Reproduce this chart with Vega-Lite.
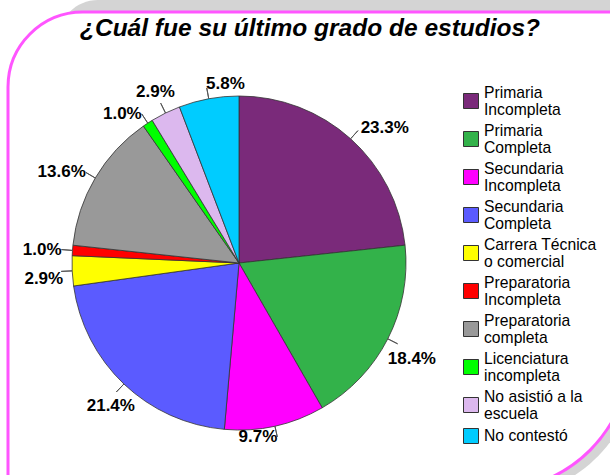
{
  "$schema": "https://vega.github.io/schema/vega-lite/v6.json",
  "width": 602,
  "height": 463,
  "autosize": {"type": "none"},
  "padding": {"left": 8, "top": 12, "right": 0, "bottom": 0},
  "background": "white",
  "config": {"view": {"stroke": null}, "font": "Liberation Sans"},
  "title": {
    "text": "¿Cuál fue su último grado de estudios?",
    "font": "Liberation Sans",
    "fontSize": 24.5,
    "fontWeight": "bold",
    "fontStyle": "italic",
    "color": "black",
    "anchor": "start",
    "frame": "group",
    "dx": 72,
    "dy": 23,
    "offset": -37,
    "baseline": "alphabetic"
  },
  "datasets": {
    "edu": [
      {"idx": 1, "cat": "Primaria Incompleta", "share": 0.233},
      {"idx": 2, "cat": "Primaria Completa", "share": 0.184},
      {"idx": 3, "cat": "Secundaria Incompleta", "share": 0.097},
      {"idx": 4, "cat": "Secundaria Completa", "share": 0.214},
      {"idx": 5, "cat": "Carrera Técnica o comercial", "share": 0.029},
      {"idx": 6, "cat": "Preparatoria Incompleta", "share": 0.010},
      {"idx": 7, "cat": "Preparatoria completa", "share": 0.136},
      {"idx": 8, "cat": "Licenciatura incompleta", "share": 0.010},
      {"idx": 9, "cat": "No asistió a la escuela", "share": 0.029},
      {"idx": 10, "cat": "No contestó", "share": 0.058}
    ]
  },
  "data": {"name": "edu"},
  "layer": [
    {
      "data": {"values": [{}]},
      "mark": {"type": "rect", "fill": "#d4d4d4", "stroke": null, "cornerRadiusTopLeft": 40, "cornerRadiusBottomRight": 136},
      "encoding": {
        "x": {"value": 50},
        "x2": {"value": {"expr": "width + 27"}},
        "y": {"value": -12},
        "y2": {"value": {"expr": "height + 22"}}
      }
    },
    {
      "data": {"values": [{}]},
      "mark": {"type": "rect", "fill": "white", "stroke": "#FF55FF", "strokeWidth": 3, "cornerRadiusTopLeft": 75, "cornerRadiusBottomRight": 136},
      "encoding": {
        "x": {"value": 0},
        "x2": {"value": {"expr": "width + 20"}},
        "y": {"value": 0},
        "y2": {"value": {"expr": "height + 15"}}
      }
    },
    {
      "mark": {"type": "arc", "x": 231, "y": 251, "radius": 167, "stroke": "#333333", "strokeWidth": 0.8},
      "encoding": {
        "theta": {"field": "share", "type": "quantitative", "stack": true},
        "order": {"field": "idx", "type": "quantitative"},
        "color": {
          "field": "cat",
          "type": "nominal",
          "scale": {
            "domain": ["Primaria Incompleta", "Primaria Completa", "Secundaria Incompleta", "Secundaria Completa", "Carrera Técnica o comercial", "Preparatoria Incompleta", "Preparatoria completa", "Licenciatura incompleta", "No asistió a la escuela", "No contestó"],
            "range": ["#7A2A7A", "#33B24A", "#FF00FF", "#5B5BFF", "#FFFF00", "#FF0000", "#999999", "#00FF00", "#DCB8EE", "#00CCFF"]
          },
          "legend": {
            "title": null,
            "orient": "none",
            "legendX": 455,
            "legendY": 81,
            "padding": 0,
            "symbolType": "square",
            "symbolSize": 225,
            "symbolStrokeColor": "#333333",
            "symbolStrokeWidth": 1,
            "labelFont": "Liberation Sans",
            "labelFontSize": 15.7,
            "labelColor": "black",
            "labelOffset": 5,
            "labelLimit": 200,
            "rowPadding": 4,
            "labelExpr": "datum.label == 'Carrera Técnica o comercial' ? ['Carrera Técnica', 'o comercial'] : datum.label == 'No asistió a la escuela' ? ['No asistió a la', 'escuela'] : datum.label == 'No contestó' ? datum.label : split(datum.label, ' ')",
            "encode": {
              "labels": {"update": {"dy": {"signal": "datum.value == 'No contestó' ? 0 : -8.5"}}}
            }
          }
        }
      }
    },
    {
      "mark": {"type": "arc", "x": 231, "y": 251, "radius": 178, "radius2": 167, "padAngle": 3, "fillOpacity": 0, "stroke": "#555555", "strokeWidth": 1},
      "encoding": {
        "theta": {"field": "share", "type": "quantitative", "stack": true},
        "order": {"field": "idx", "type": "quantitative"}
      }
    },
    {
      "mark": {"type": "text", "x": 231, "y": 251, "radius": 182, "align": "left", "baseline": "middle", "font": "Liberation Sans", "fontSize": 17, "fontWeight": "bold", "color": "black"},
      "encoding": {
        "theta": {"field": "share", "type": "quantitative", "stack": true},
        "order": {"field": "idx", "type": "quantitative"},
        "text": {"condition": {"test": "indexof(['Primaria Incompleta', 'No contestó'], datum.cat) >= 0", "field": "share", "type": "quantitative", "format": ".1%"}, "value": ""}
      }
    },
    {
      "mark": {"type": "text", "x": 231, "y": 251, "radius": 190, "align": "center", "baseline": "middle", "font": "Liberation Sans", "fontSize": 17, "fontWeight": "bold", "color": "black"},
      "encoding": {
        "theta": {"field": "share", "type": "quantitative", "stack": true},
        "order": {"field": "idx", "type": "quantitative"},
        "text": {"condition": {"test": "datum.cat === 'No asistió a la escuela'", "field": "share", "type": "quantitative", "format": ".1%"}, "value": ""}
      }
    },
    {
      "mark": {"type": "text", "x": 231, "y": 251, "radius": 186, "align": "center", "baseline": "top", "font": "Liberation Sans", "fontSize": 17, "fontWeight": "bold", "color": "black"},
      "encoding": {
        "theta": {"field": "share", "type": "quantitative", "stack": true},
        "order": {"field": "idx", "type": "quantitative"},
        "text": {"condition": {"test": "datum.cat === 'Secundaria Completa'", "field": "share", "type": "quantitative", "format": ".1%"}, "value": ""}
      }
    },
    {
      "mark": {"type": "text", "x": 231, "y": 251, "radius": 194, "align": "center", "baseline": "top", "font": "Liberation Sans", "fontSize": 17, "fontWeight": "bold", "color": "black"},
      "encoding": {
        "theta": {"field": "share", "type": "quantitative", "stack": true},
        "order": {"field": "idx", "type": "quantitative"},
        "text": {"condition": {"test": "datum.cat === 'Primaria Completa'", "field": "share", "type": "quantitative", "format": ".1%"}, "value": ""}
      }
    },
    {
      "mark": {"type": "text", "x": 231, "y": 251, "radius": 178, "align": "right", "baseline": "middle", "font": "Liberation Sans", "fontSize": 17, "fontWeight": "bold", "color": "black"},
      "encoding": {
        "theta": {"field": "share", "type": "quantitative", "stack": true},
        "order": {"field": "idx", "type": "quantitative"},
        "text": {"condition": {"test": "indexof(['Secundaria Incompleta', 'Preparatoria Incompleta', 'Preparatoria completa', 'Licenciatura incompleta'], datum.cat) >= 0", "field": "share", "type": "quantitative", "format": ".1%"}, "value": ""}
      }
    },
    {
      "mark": {"type": "text", "x": 231, "y": 251, "radius": 176, "align": "right", "baseline": "top", "font": "Liberation Sans", "fontSize": 17, "fontWeight": "bold", "color": "black"},
      "encoding": {
        "theta": {"field": "share", "type": "quantitative", "stack": true},
        "order": {"field": "idx", "type": "quantitative"},
        "text": {"condition": {"test": "datum.cat === 'Carrera Técnica o comercial'", "field": "share", "type": "quantitative", "format": ".1%"}, "value": ""}
      }
    }
  ]
}
